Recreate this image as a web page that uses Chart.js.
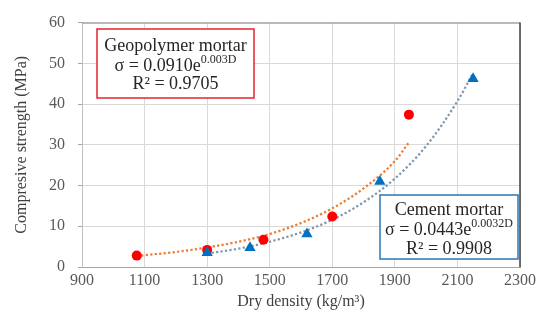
<!DOCTYPE html>
<html>
<head>
<meta charset="utf-8">
<script src="https://cdn.jsdelivr.net/npm/chart.js@4"></script>
<style>
  html, body { margin: 0; padding: 0; background: #fff; }
  #wrap { width: 544px; height: 320px; }
</style>
</head>
<body>
<div id="wrap"><canvas id="chart" width="544" height="320"></canvas></div>
<script>
// Measured points
const geoDensity = [1075, 1300, 1480, 1700, 1945];
const geoStrength = [2.8, 4.2, 6.7, 12.4, 37.4];
const cemDensity = [1300, 1437, 1619, 1852, 2150];
const cemStrength = [3.5, 4.7, 8.1, 21.0, 46.2];

// Trendlines
const geoTrendDensity = [1075, 1200, 1300, 1400, 1500, 1600, 1700, 1800, 1900, 1945];
const geoTrendStrength = [2.7, 3.7, 4.8, 6.2, 8.1, 10.8, 14.4, 19.3, 26.0, 30.6];
const cemTrendDensity = [1300, 1400, 1500, 1600, 1700, 1800, 1900, 2000, 2100, 2150];
const cemTrendStrength = [3.3, 4.5, 6.2, 8.5, 11.6, 15.9, 21.7, 29.7, 40.7, 47.6];

// Axis ticks
const xTicks = [900, 1100, 1300, 1500, 1700, 1900, 2100, 2300];
const yTicks = [0, 10, 20, 30, 40, 50, 60];

// Equation boxes
const geoLabel = ['Geopolymer mortar', 'σ = 0.0910e', '0.003D', 'R² = 0.9705'];
const cemLabel = ['Cement mortar', 'σ = 0.0443e', '0.0032D', 'R² = 0.9908'];

const FONT = '"Liberation Serif", "Times New Roman", serif';

const toPoints = (xs, ys) => xs.map((x, i) => ({ x: x, y: ys[i] }));

// Plot frame: darker right edge, grey top edge
const framePlugin = {
    id: 'frame',
    beforeDatasetsDraw(chart) {
        const a = chart.chartArea;
        const ctx = chart.ctx;
        ctx.save();
        ctx.lineWidth = 1;
        ctx.strokeStyle = '#8c8c8c';
        ctx.beginPath();
        ctx.moveTo(a.left, a.top + 0.5);
        ctx.lineTo(a.right, a.top + 0.5);
        ctx.stroke();
        ctx.strokeStyle = '#404040';
        ctx.lineWidth = 1.5;
        ctx.beginPath();
        ctx.moveTo(a.right, a.top);
        ctx.lineTo(a.right, a.bottom);
        ctx.stroke();
        ctx.restore();
    }
};

function drawBox(ctx, box, lines, color) {
    ctx.save();
    ctx.fillStyle = '#fff';
    ctx.fillRect(box.x, box.y, box.w, box.h);
    ctx.strokeStyle = color;
    ctx.lineWidth = 1.5;
    ctx.strokeRect(box.x, box.y, box.w, box.h);

    const cx = box.x + box.w / 2;
    ctx.fillStyle = '#262626';
    ctx.textBaseline = 'middle';
    ctx.textAlign = 'center';
    ctx.font = '18px ' + FONT;
    ctx.fillText(lines[0], cx, box.y + box.line1);
    ctx.fillText(lines[3], cx, box.y + box.line3);

    // equation with superscript exponent
    const base = ctx.measureText(lines[1]).width;
    ctx.font = '12px ' + FONT;
    const sup = ctx.measureText(lines[2]).width;
    const start = cx - (base + sup) / 2;
    ctx.textAlign = 'left';
    ctx.font = '18px ' + FONT;
    ctx.fillText(lines[1], start, box.y + box.line2);
    ctx.font = '12px ' + FONT;
    ctx.fillText(lines[2], start + base, box.y + box.line2 - 6);
    ctx.restore();
}

const boxPlugin = {
    id: 'boxes',
    afterDatasetsDraw(chart) {
        const ctx = chart.ctx;
        drawBox(ctx, { x: 97, y: 29, w: 157, h: 69, line1: 17, line2: 37, line3: 55 }, geoLabel, '#e3242b');
        drawBox(ctx, { x: 380, y: 195, w: 138, h: 64, line1: 15, line2: 35, line3: 54 }, cemLabel, '#2e75b6');
    }
};

const ctx = document.getElementById('chart').getContext('2d');
new Chart(ctx, {
    type: 'scatter',
    data: {
        datasets: [
            {
                label: 'Cement mortar',
                data: toPoints(cemDensity, cemStrength),
                pointStyle: 'triangle',
                pointRadius: 6.5,
                backgroundColor: '#0070c0',
                borderColor: '#0070c0',
                borderWidth: 0
            },
            {
                label: 'Geopolymer mortar',
                data: toPoints(geoDensity, geoStrength),
                pointStyle: 'circle',
                pointRadius: 5,
                backgroundColor: '#ff0000',
                borderColor: '#ff0000',
                borderWidth: 0
            },
            {
                label: 'Geopolymer trend',
                data: toPoints(geoTrendDensity, geoTrendStrength),
                showLine: true,
                pointRadius: 0,
                borderColor: '#ed7d31',
                borderWidth: 2.25,
                borderDash: [2.25, 2.25],
                cubicInterpolationMode: 'monotone',
                fill: false
            },
            {
                label: 'Cement trend',
                data: toPoints(cemTrendDensity, cemTrendStrength),
                showLine: true,
                pointRadius: 0,
                borderColor: '#7f98b2',
                borderWidth: 2.25,
                borderDash: [2.25, 2.25],
                cubicInterpolationMode: 'monotone',
                fill: false
            }
        ]
    },
    options: {
        responsive: false,
        animation: false,
        layout: { padding: { left: 10, right: 24, top: 17, bottom: 5 } },
        plugins: {
            legend: { display: false },
            tooltip: { enabled: false }
        },
        scales: {
            x: {
                type: 'linear',
                min: xTicks[0],
                max: xTicks[xTicks.length - 1],
                afterBuildTicks: (scale) => { scale.ticks = xTicks.map(v => ({ value: v })); },
                afterFit: (scale) => { scale.height = 48; },
                grid: { color: '#d9d9d9', drawTicks: false },
                border: { color: '#a6a6a6' },
                ticks: {
                    color: '#595959',
                    padding: 4,
                    font: { family: FONT, size: 16 },
                    callback: (v) => String(v)
                },
                title: {
                    display: true,
                    text: 'Dry density (kg/m³)',
                    color: '#404040',
                    padding: { top: 0, bottom: 4 },
                    font: { family: FONT, size: 16 }
                }
            },
            y: {
                min: yTicks[0],
                max: yTicks[yTicks.length - 1],
                afterBuildTicks: (scale) => { scale.ticks = yTicks.map(v => ({ value: v })); },
                afterFit: (scale) => { scale.width = 72; },
                grid: { color: '#d9d9d9', tickColor: '#a6a6a6', tickLength: 4 },
                border: { color: '#bfbfbf' },
                ticks: {
                    color: '#595959',
                    padding: 13,
                    font: { family: FONT, size: 16 },
                    callback: (v) => String(v)
                },
                title: {
                    display: true,
                    text: 'Compresive strength (MPa)',
                    color: '#404040',
                    padding: { top: 2, bottom: 0 },
                    font: { family: FONT, size: 16 }
                }
            }
        }
    },
    plugins: [framePlugin, boxPlugin]
});
</script>
</body>
</html>
